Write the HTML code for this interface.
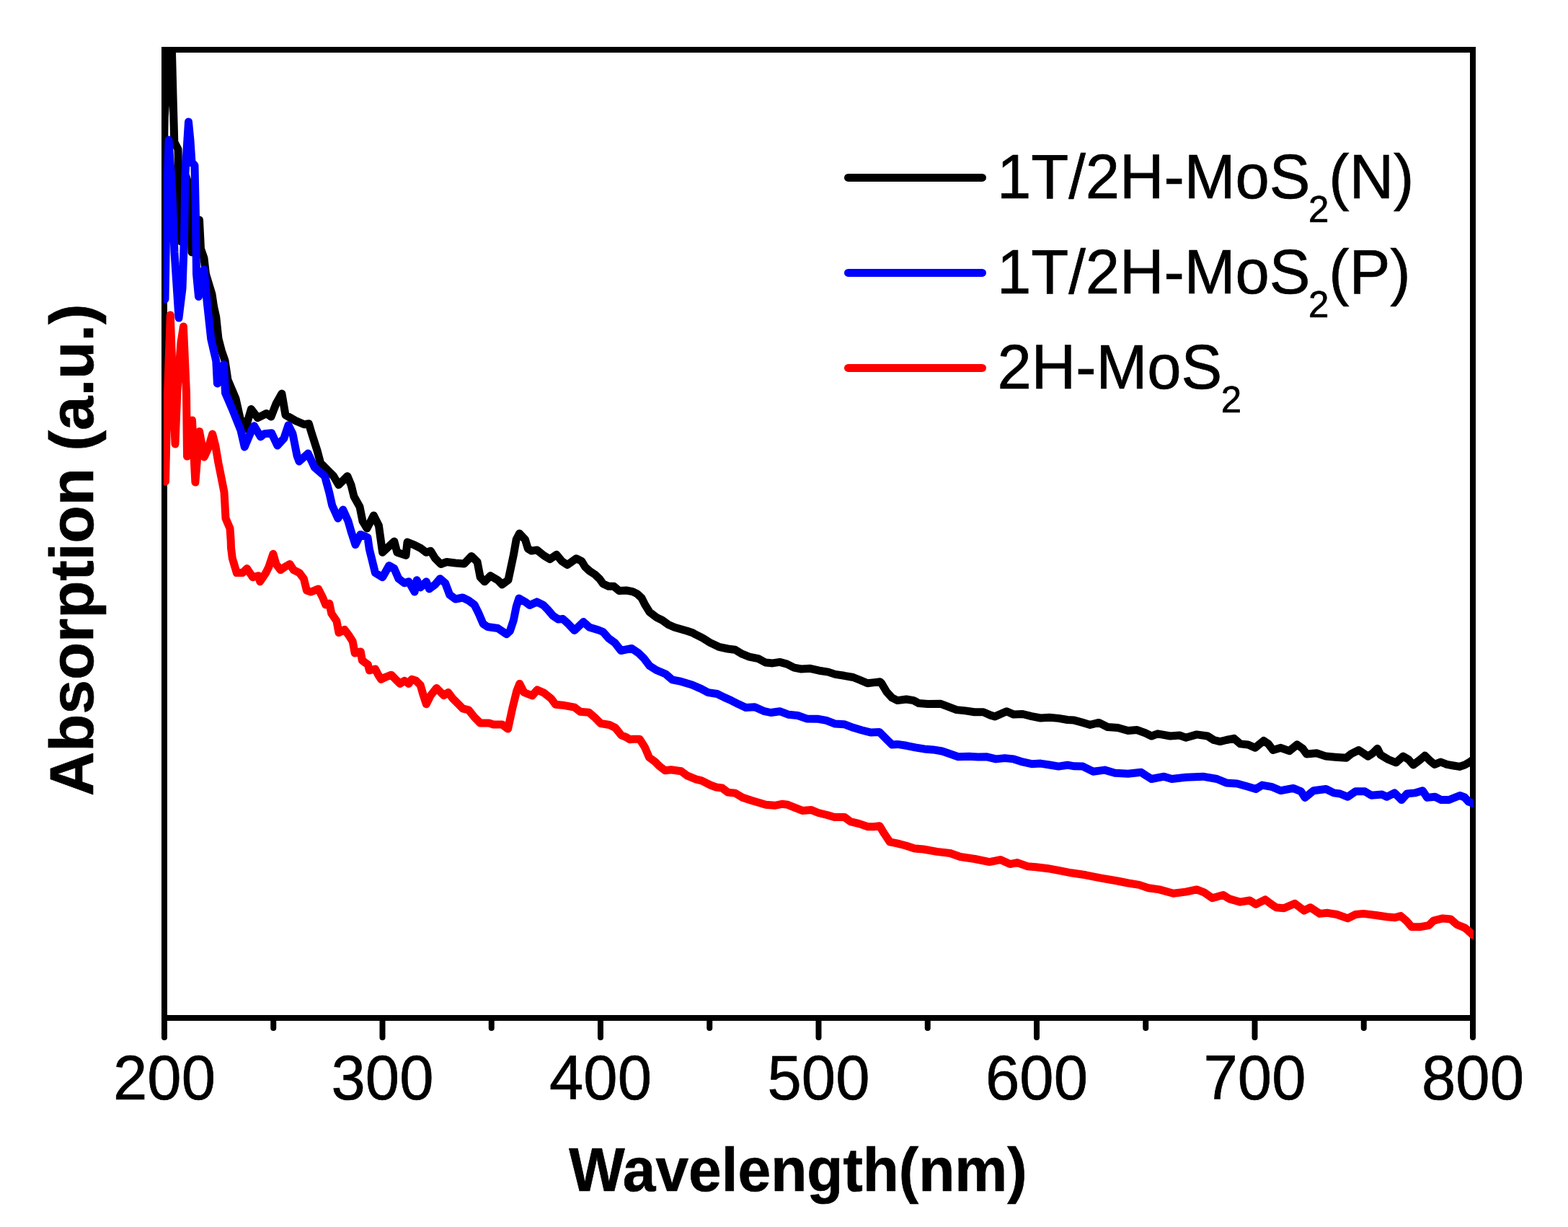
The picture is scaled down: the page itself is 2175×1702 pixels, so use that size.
<!DOCTYPE html>
<html><head><meta charset="utf-8"><title>Absorption spectra</title>
<style>html,body{margin:0;padding:0;background:#fff;overflow:hidden}svg{display:block}text{font-family:"Liberation Sans",Arial,sans-serif;fill:#000;stroke:#000;stroke-width:0.7px}</style></head><body>
<svg width="2175" height="1702" viewBox="0 0 2175 1702">
<rect width="2175" height="1702" fill="#fff"/>
<defs><clipPath id="c"><rect x="227" y="65" width="1817" height="1351"/></clipPath></defs>
<rect x="228" y="69" width="1815" height="1343" fill="none" stroke="#000" stroke-width="8"/>
<g clip-path="url(#c)" fill="none" stroke-width="11" stroke-linejoin="round" stroke-linecap="round">
<polyline stroke="#000" points="226,330 227,230 228.2,162.7 235.6,60 237,40 238.5,73 240.2,140 241.2,175 241.8,197 247,207 248,260 248.5,325 251,335 258,245 263,260 266,350 271,305 276.5,305 278.5,345 283,358 285.5,380 294,408 296.5,425 299.8,440 303,470 307.3,486.5 312,500 316,527 327,553 333,580 340.3,595 348.4,567.5 357.5,579.6 369.6,573.5 376,578 383,560 390.9,546 396,575.6 410,583.6 422,588.7 428.3,587.7 432,600 440,625 444.5,642 454.6,652.4 462.7,660.5 469.7,672.6 481.9,660.5 487,672.6 491,688.8 499,703 503,723 509,733 518.3,715 525.4,729 530.6,766.3 546.8,751 550.9,766.3 563,770.3 565,752 575.1,756.2 583.2,760.2 591.3,766.3 597.4,764.3 603.5,774.4 611.5,782.5 619.6,779.5 631.8,781 643.9,782 654,771.4 662.1,779.5 666.2,800.7 672.2,806.8 680.3,798.7 690.5,804.7 696.5,810.8 705,804.5 712.4,769.7 716.1,748.6 720.5,740 728.5,748.6 732.3,761 737.2,764.1 744.7,762.9 754.6,770.7 762.7,775.6 772,769.4 779.4,778.4 786.9,783.6 799.3,774.7 806.8,778.4 811.7,786.5 817.9,792.1 825.4,797 831.6,802.9 836.5,809.7 844,813.2 851.4,813.2 858.9,819.6 868.8,819 877.5,820.6 883.7,823.7 889.9,829.3 894.9,839.2 901.1,849.2 911,856.6 918.5,860.3 927.2,866.5 935.8,870.3 944.5,872.7 953.2,875.2 960.7,877.7 965,880.2 974.9,885.2 984.8,891.4 997.2,897.3 1009.7,900 1019.6,901.3 1029.5,907.2 1039.4,911.2 1051.9,913.7 1061.8,919 1071.7,919.9 1081.6,918.4 1091.6,921.1 1101.5,926.1 1111.4,928 1123.9,927.3 1136.3,930.2 1148.7,932.1 1158.6,935.4 1171,937.3 1183.4,939.5 1193.4,943.5 1203.3,947.8 1213.2,946.6 1220.7,945.7 1222.5,947.4 1229.9,959.8 1237.4,967.9 1244.8,971.6 1257.2,970 1267.2,971.6 1274.6,975.6 1287,976.5 1304.4,976.2 1314.3,979.9 1326.8,984.6 1339.2,985.9 1351.6,987.7 1364,987.7 1373.9,992.1 1380.1,993.9 1396.3,986.7 1406.2,991.1 1418.6,990.5 1431,993.6 1443.4,996 1455.8,995.2 1468.3,996.4 1480.7,998.5 1490,999.1 1502,1002.4 1512.1,1005.4 1524.3,1002.4 1536.4,1008.5 1550.6,1009.5 1564.7,1013.5 1576.9,1012.5 1588.6,1016.7 1597.3,1021 1605.9,1017.8 1623.2,1021 1636.2,1020 1644.8,1023.2 1660,1018.9 1675,1021 1683.7,1026.5 1692.4,1028.6 1701,1026.5 1711.8,1024.3 1720.4,1031.9 1731.3,1033 1741,1037.3 1752.9,1027.5 1759.3,1031.9 1765.8,1040.5 1776.6,1037.3 1788.5,1041.6 1799.3,1032.9 1806.9,1038.3 1812.3,1045.9 1826.3,1044.8 1839.3,1049.1 1852.3,1050.2 1867.4,1051.3 1873.9,1045.9 1884.7,1040.5 1897.6,1049.1 1904.1,1044.8 1910.6,1038.3 1914.9,1047 1925.7,1053.5 1936.5,1057.8 1946.2,1049.1 1953.8,1053.5 1960.3,1061 1969,1054.5 1976.5,1048.1 1984,1055.6 1990,1060.4 1998.4,1057 2007,1060.4 2016,1062 2024.4,1063.4 2031.8,1061 2038.3,1057.4 2044,1053"/>
<polyline stroke="#00f" points="229,415 231,300 234,194 238.5,260 242,350 248,441 253,400 255.5,330 257,240 261.5,169 264,195 266,225 270,229.5 271.5,300 272.5,380 275.5,411.5 283,374 287.3,420 292.7,470 299.8,500.7 301.4,532 305,512 310.5,505.5 312.5,545 316,553 322,567 328,582 334,597 339.3,620 349.4,595.8 352.4,590.7 361.5,605.9 366.6,601.8 376.7,600.8 384.8,618 393.9,608 400,589.7 406,601.8 412,632 415,640 427.3,629 436.4,648.4 450.5,660.5 456.6,682.8 460.7,701 468.8,719 475.8,707 483,723 487,737 493,755.6 500,741.4 510,745.5 512.4,762 520.5,794.6 530.6,800.7 539.7,784.5 546.8,788.6 552.9,802.7 561,808.8 567,806.8 575.1,821 578.2,804.7 583.2,814.9 591.3,806.8 595.4,816.9 603.5,810.8 610.5,802.7 617.6,808.8 623.7,825 631.8,831 641.9,829 650,833 658.1,839 664.2,851.3 670.2,865.4 676.3,869.5 690.5,871.5 702.6,879.6 707.4,875.2 712.4,860.3 716.1,841.7 719.9,829.9 728.6,834.9 734.8,839.5 744.7,834.9 753.4,839.2 759.6,845.4 767,854.1 774.5,859.1 780.7,858.5 786.9,864.1 796.8,874.6 809.2,862.6 817.9,870.3 830.3,874 836.5,876.5 844,885.2 852.7,891.4 861.4,902.5 876.3,899.4 886.2,906.3 893.6,913.7 901.1,923.6 911,929.8 923.4,935 932.4,942.8 942.5,944.8 960,950 972.4,955.4 982.3,960.6 994.8,962.5 1004.7,967.4 1014.6,971.8 1024.5,976.8 1034.5,981.4 1046.9,980.7 1059.3,986.3 1069.2,988.5 1081.6,986.7 1094.1,991.3 1106.5,992.5 1118.9,996.9 1133.8,997.2 1146.2,999.4 1158.6,1004.1 1171,1004.7 1183.4,1009.3 1195.8,1013 1208.3,1016.1 1219.4,1015.5 1220,1015.6 1229.9,1025.6 1237.4,1033 1244.8,1032.4 1257.2,1034.3 1269.7,1036.8 1282.1,1038.9 1294.5,1039.9 1306.9,1042 1319.3,1046.3 1329.2,1049.8 1344.1,1049.2 1356.5,1050 1369,1049.8 1381.4,1052.9 1393.8,1051.6 1406.2,1052.9 1418.6,1056.9 1431,1059.7 1443.4,1059.1 1455.8,1061 1468.3,1063.1 1480.7,1061.2 1490,1062.8 1502,1063.1 1516.2,1070.2 1532.4,1068.1 1546.5,1072.2 1564.7,1073.2 1582.9,1071.2 1588.6,1075.1 1597.3,1080.5 1614.6,1077.2 1625.4,1080.5 1644.8,1078.3 1668.6,1077.2 1688,1080.5 1701,1085.9 1716.1,1087 1731.3,1091.3 1742,1094.5 1750.7,1089.1 1763.7,1091.3 1776.6,1096.7 1793.9,1093.4 1804.7,1097.8 1810.1,1106.4 1822,1096.7 1839.3,1094.5 1850.1,1099.9 1858.7,1101 1869.5,1105.3 1880.3,1097.8 1893.3,1097.8 1902,1103.2 1917.1,1102.1 1923.6,1105.3 1934.4,1099.9 1944.1,1109.6 1951.7,1101 1962.5,1099.9 1973.3,1096.7 1979.7,1106.4 1990.5,1105.3 1999.2,1109.6 2010,1109.5 2018.6,1106 2025,1103.5 2031.6,1106 2037,1112 2044,1114.5"/>
<polyline stroke="#f00" points="229.5,668 232,560 236.3,437 237.5,470 240,540 243,616 246,540 251,475 254.4,453 258.5,545 259.5,633 266.5,583 270.9,669 276.6,598.5 283.2,634 288.7,622 294.7,602 298.8,618 302.9,642 307,662.5 311,682.8 313,719 319,733 320.2,750 320.5,760 322.3,774.4 328.3,794.6 336.4,794.6 342.5,788.6 350.6,800.7 358.7,798.7 360.7,806.8 368.8,794.6 372.8,786.5 378.9,768.3 383,782.5 389,790.6 395,786.5 402,782.5 407.2,790.6 415.3,794.6 421.4,802.7 425.4,819 431.5,821 441.6,816.9 447.7,829 451.7,839 456.8,837 459.8,851 466.9,861.4 470,877.6 478,873.5 484.1,881.6 489.2,889.7 492.2,905.9 500.3,903.9 502.3,916 510.4,922 512.4,930 520.5,928 524.6,936 528.6,942.3 534.7,939.3 542.8,936.2 548.8,942.3 554.9,948.4 561,944.3 567,948.4 571.1,942.3 577.2,944.3 583.2,950.4 587.3,964.6 591.3,976.7 597.4,964.6 605.5,954.4 615.6,964.6 621.7,960.5 627.7,968.6 635.8,976.7 641.9,982.8 650,984.8 658.1,994.9 666.2,1003 678.3,1003 684.4,1005 696.5,1005 704.6,1011 710.7,982.8 716.7,958.5 720.8,948.4 726.9,960.5 738.2,965 745.3,956.9 754.4,961 764.5,969 770.6,977.2 780.7,978.2 796.9,981.2 805,987.3 817.1,988.3 825.2,995.4 833.3,1003.5 845.4,1005.5 853.5,1009.5 861.6,1019.6 868.1,1022.3 873.8,1025.7 878.2,1025.3 887.3,1025.3 894.4,1036.4 900.5,1050.6 908.6,1056.6 914.6,1062.7 922.7,1068.8 930.8,1067.8 945,1069.8 953.1,1075.9 965.2,1080.9 973.3,1082.9 985.4,1089 993.5,1092 1001.6,1093 1009.7,1099.1 1019.8,1100.1 1029.9,1106.2 1042.1,1110.3 1052.2,1113.3 1062.3,1116.3 1074.4,1117.3 1084.6,1115.3 1092.7,1116.3 1102.8,1120.4 1112.9,1124.4 1125,1123.4 1135.1,1127.5 1147.3,1130.5 1157.4,1133.5 1171.5,1133.5 1179.6,1139.6 1191.8,1142.6 1203.9,1146.7 1212,1146.7 1220.1,1145.7 1226.2,1155.8 1234.3,1167.9 1244.4,1169.9 1256.5,1173 1268.7,1177 1280.8,1178 1299.7,1181.4 1317.9,1183.5 1332.1,1188.5 1352.3,1191.5 1372.5,1195.6 1387.7,1192.6 1400.9,1198.6 1411,1196.6 1425.1,1201.7 1437.3,1202.7 1453.5,1204.7 1469.6,1207.7 1485.8,1210.8 1506,1213.8 1526.3,1217.9 1550,1222 1565,1225 1580,1227.4 1593,1231.7 1608.1,1233.9 1627.5,1239.3 1644.8,1237.1 1660,1233.9 1670.8,1238.2 1681.6,1245.8 1696.7,1241.5 1705.3,1246.9 1720.4,1251.2 1733.4,1249 1742,1254.4 1755,1247.9 1763.7,1254.4 1770.1,1258.7 1781,1259.8 1796.1,1253.3 1809,1263.1 1817.7,1258.7 1830.6,1267.4 1841.5,1266.3 1854.4,1268.5 1869.5,1273.9 1880.3,1268.5 1891.2,1267.4 1908.4,1269.5 1923.6,1271.7 1934.4,1272.8 1943,1270.6 1951.7,1278.2 1958.1,1285.8 1969,1285.8 1981.9,1283.6 1988.4,1277.1 2001.3,1273.9 2012.2,1274.9 2020.8,1282.5 2031.6,1286.8 2039.2,1293.3 2043,1297"/>
</g>
<path d="M228.00 1412V1439M379.25 1412V1426M530.50 1412V1439M681.75 1412V1426M833.00 1412V1439M984.25 1412V1426M1135.50 1412V1439M1286.75 1412V1426M1438.00 1412V1439M1589.25 1412V1426M1740.50 1412V1439M1891.75 1412V1426M2043.00 1412V1439" stroke="#000" stroke-width="8" stroke-linecap="round" fill="none"/>
<text transform="translate(228.00,1525) scale(1,1.032)" font-size="85" text-anchor="middle">200</text>
<text transform="translate(530.50,1525) scale(1,1.032)" font-size="85" text-anchor="middle">300</text>
<text transform="translate(833.00,1525) scale(1,1.032)" font-size="85" text-anchor="middle">400</text>
<text transform="translate(1135.50,1525) scale(1,1.032)" font-size="85" text-anchor="middle">500</text>
<text transform="translate(1438.00,1525) scale(1,1.032)" font-size="85" text-anchor="middle">600</text>
<text transform="translate(1740.50,1525) scale(1,1.032)" font-size="85" text-anchor="middle">700</text>
<text transform="translate(2043.00,1525) scale(1,1.032)" font-size="85" text-anchor="middle">800</text>
<text transform="translate(1107,1652) scale(0.9545,1)" font-size="86" font-weight="bold" text-anchor="middle">Wavelength(nm)</text>
<text transform="translate(129,763) rotate(-90) scale(0.9926,1)" font-size="86" font-weight="bold" text-anchor="middle">Absorption (a.u.)</text>
<line x1="1176.5" y1="246.4" x2="1362.5" y2="246.4" stroke="#000" stroke-width="11" stroke-linecap="round"/>
<text transform="translate(1383,275) scale(1,1.032)" font-size="85">1T/2H-MoS<tspan font-size="51" dx="-2.5" dy="32">2</tspan><tspan dy="-32">(N)</tspan></text>
<line x1="1176.5" y1="378.4" x2="1362.5" y2="378.4" stroke="#00f" stroke-width="11" stroke-linecap="round"/>
<text transform="translate(1383,407) scale(1,1.032)" font-size="85">1T/2H-MoS<tspan font-size="51" dx="-2.5" dy="32">2</tspan><tspan dy="-32">(P)</tspan></text>
<line x1="1176.5" y1="510.4" x2="1362.5" y2="510.4" stroke="#f00" stroke-width="11" stroke-linecap="round"/>
<text transform="translate(1383.5,539) scale(1,1.032)" font-size="85">2H-MoS<tspan font-size="51" dx="-1.5" dy="32">2</tspan></text>
</svg></body></html>
